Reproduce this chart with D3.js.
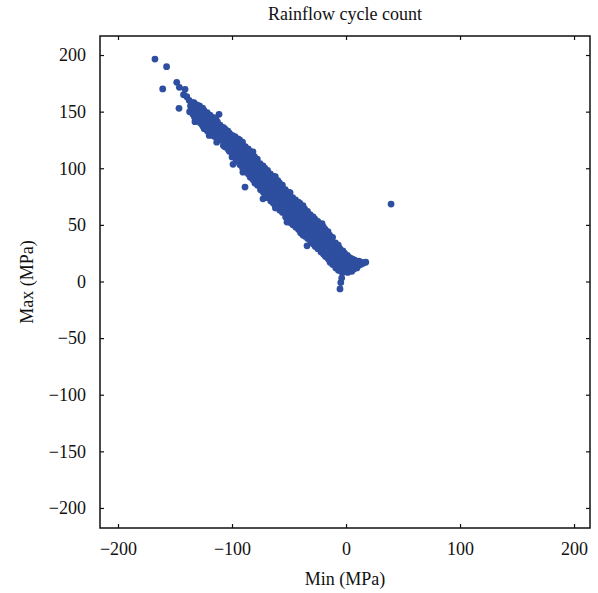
<!DOCTYPE html>
<html>
<head>
<meta charset="utf-8">
<script src="https://cdn.jsdelivr.net/npm/d3@7"></script>
<style>
  body { margin: 0; background: #fff; }
  text { font-family: "Liberation Serif", "DejaVu Serif", serif; fill: #111; }
</style>
</head>
<body>
<div id="chart-area"></div>
<script>

// rainflow cycles: min stress (MPa) and max stress (MPa)
const minStress = [
  -167.6, -157.4, -160.8, -148.5, -146.2, -146.5, -141.2, -142.5, -139.7, -132.5,
  -111.4, -114.2, -88.6, 39.5, -5.3, -4.6, -3.8,
  // ragged edges
  -125.4, -113.4, -99.1, -90.4, -72.8, -51.8, -34.2, -81.6, -49.1, -21.0, -120.0, -62.0,
  -137.6, -136.4, -137.2,
  -133.4, -132.6, -133.8, -132.9,
  -128.5, -127.6, -128.3, -127.8,
  -124.6, -123.5, -124.2, -123.7, -124.4,
  -119.3, -118.6, -119.5, -118.8, -119.2,
  -115.4, -114.6, -115.2, -114.8, -115.3,
  -110.5, -109.6, -110.3, -109.8,
  -106.4, -105.7, -106.2, -105.8, -106.3,
  -102.3, -101.6, -102.1, -101.8, -102.4,
  -97.4, -96.7, -97.2, -96.8, -97.3, -96.6,
  -93.3, -92.6, -93.1, -92.8, -93.4, -92.7, -93.0,
  -88.4, -87.6, -88.2, -87.8, -88.3, -87.7, -88.1,
  -84.3, -83.6, -84.1, -83.8, -84.4, -83.7, -84.0,
  -80.2, -79.6, -80.1, -79.8, -80.3, -79.7, -80.0,
  -75.4, -74.6, -75.2, -74.8, -75.3, -74.7, -75.0,
  -71.3, -70.6, -71.1, -70.8, -71.4, -70.7, -71.0,
  -66.4, -65.6, -66.2, -65.8, -66.3, -65.7, -66.0,
  -62.3, -61.6, -62.1, -61.8, -62.4, -61.7, -62.0, -61.9,
  -58.4, -57.6, -58.2, -57.8, -58.3, -57.7, -58.0,
  -53.3, -52.6, -53.1, -52.8, -53.4, -52.7, -53.0,
  -49.4, -48.6, -49.2, -48.8, -49.3, -48.7, -49.0,
  -44.3, -43.6, -44.1, -43.8, -44.4, -43.7, -44.0,
  -40.4, -39.6, -40.2, -39.8, -40.3, -39.7, -40.0, -39.9,
  -36.3, -35.6, -36.1, -35.8, -36.4, -35.7, -36.0,
  -31.4, -30.6, -31.2, -30.8, -31.3, -30.7, -31.0,
  -27.3, -26.6, -27.1, -26.8, -27.4, -26.7, -27.0,
  -22.4, -21.6, -22.2, -21.8, -22.3, -21.7, -22.0,
  -18.3, -17.6, -18.1, -17.8, -18.4, -17.7, -18.0,
  -14.4, -13.6, -14.2, -13.8, -14.3, -13.7, -14.0,
  -9.3, -8.6, -9.1, -8.8, -9.4, -8.7, -9.0,
  -5.4, -4.6, -5.2, -4.8, -5.3, -4.7,
  -1.3, -0.6, -1.1, -0.8, -1.2,
  3.3, 2.6, 3.1, 2.8,
  7.2, 6.6, 7.0,
  11.2, 10.7,
  15.0, 17.3,
  // in-between cycles
  -134.8, -135.3, -134.5,
  -130.8, -131.2, -130.4, -130.9,
  -125.8, -126.2, -125.5, -125.9,
  -121.8, -122.1, -121.4, -121.9, -121.6,
  -116.8, -117.2, -116.5, -116.9, -116.6,
  -112.8, -113.1, -112.5, -112.9, -112.6,
  -107.8, -108.2, -107.5, -107.9, -107.6,
  -103.8, -104.1, -103.5, -103.9, -103.6,
  -99.8, -100.2, -99.5, -99.9, -99.6, -100.0,
  -94.8, -95.2, -94.5, -94.9, -94.6, -95.0,
  -90.8, -91.2, -90.5, -90.9, -90.6, -91.0, -90.7,
  -85.8, -86.2, -85.5, -85.9, -85.6, -86.0, -85.7,
  -81.8, -82.2, -81.5, -81.9, -81.6, -82.0, -81.7,
  -77.8, -78.2, -77.5, -77.9, -77.6, -78.0, -77.7,
  -72.8, -73.2, -72.5, -72.9, -72.6, -73.0, -72.7,
  -68.8, -69.2, -68.5, -68.9, -68.6, -69.0, -68.7,
  -63.8, -64.2, -63.5, -63.9, -63.6, -64.0, -63.7,
  -59.8, -60.2, -59.5, -59.9, -59.6, -60.0, -59.7,
  -55.8, -56.2, -55.5, -55.9, -55.6, -56.0, -55.7,
  -50.8, -51.2, -50.5, -50.9, -50.6, -51.0, -50.7,
  -46.8, -47.2, -46.5, -46.9, -46.6, -47.0, -46.7,
  -41.8, -42.2, -41.5, -41.9, -41.6, -42.0, -41.7,
  -37.8, -38.2, -37.5, -37.9, -37.6, -38.0, -37.7, -37.9,
  -33.8, -34.2, -33.5, -33.9, -33.6, -34.0, -33.7,
  -28.8, -29.2, -28.5, -28.9, -28.6, -29.0, -28.7,
  -24.8, -25.2, -24.5, -24.9, -24.6, -25.0, -24.7,
  -19.8, -20.2, -19.5, -19.9, -19.6, -20.0, -19.7,
  -15.8, -16.2, -15.5, -15.9, -15.6, -16.0, -15.7,
  -11.8, -12.2, -11.5, -11.9, -11.6, -12.0, -11.7,
  -6.8, -7.2, -6.5, -6.9, -6.6, -7.0, -6.7,
  -2.8, -3.2, -2.5, -2.9, -2.6, -3.0,
  1.2, 0.8, 1.5, 1.1, 1.4,
  5.2, 4.8, 5.5, 5.1,
  9.2, 8.8, 9.5,
  13.2, 12.8
];

const maxStress = [
  196.4, 189.7, 170.1, 175.9, 171.5, 152.9, 169.7, 165.0, 163.2, 141.1,
  147.6, 144.3, 83.4, 68.4, -6.6, -1.0, 3.0,
  // ragged edges
  137.0, 123.0, 103.5, 96.5, 73.0, 52.5, 31.5, 114.5, 78.5, 51.0, 129.0, 92.5,
  160, 155, 150,
  158, 153, 148, 145,
  155, 150, 145, 140,
  151, 147, 143, 139, 135,
  147, 143, 139, 135, 131,
  143, 139, 135, 131, 128,
  138, 134, 130, 126,
  135, 131, 127, 123, 119,
  131, 127, 123, 119, 115,
  128, 124, 120, 116, 112, 108,
  125, 121, 117, 113, 109, 105, 103,
  119, 115, 111, 107, 103, 99, 97,
  115, 111, 107, 103, 99, 95, 92,
  110, 106, 102, 98, 94, 90, 87,
  104, 100, 96, 92, 88, 84, 81,
  100, 96, 92, 88, 84, 80, 76,
  95, 91, 87, 83, 79, 75, 71,
  91, 87, 83, 79, 75, 71, 67, 65,
  87, 83, 79, 75, 71, 67, 63,
  81, 77, 73, 69, 65, 61, 57,
  76, 72, 68, 64, 60, 56, 52,
  72, 68, 64, 60, 56, 52, 48,
  69, 65, 61, 57, 53, 49, 45, 43,
  64, 60, 56, 52, 48, 44, 40,
  59, 55, 51, 47, 43, 39, 35,
  55, 51, 47, 43, 39, 35, 31,
  50, 46, 42, 38, 34, 30, 26,
  46, 42, 38, 34, 30, 26, 22,
  41, 37, 33, 29, 25, 21, 17,
  34, 30, 26, 22, 18, 14, 12,
  29, 25, 21, 17, 13, 9,
  25, 21, 17, 13, 9,
  21, 17, 13, 9,
  19, 15, 11,
  18, 14,
  16, 17,
  // in-between cycles
  158, 153, 148,
  156, 151, 146, 143,
  153, 148, 143, 138,
  149, 145, 141, 137, 133,
  145, 141, 137, 133, 129,
  141, 137, 133, 129, 126,
  136, 132, 128, 124, 120,
  133, 129, 125, 121, 117,
  129, 125, 121, 117, 113, 110,
  126, 122, 118, 114, 110, 106,
  123, 119, 115, 111, 107, 103, 100,
  117, 113, 109, 105, 101, 97, 95,
  113, 109, 105, 101, 97, 93, 90,
  108, 104, 100, 96, 92, 88, 85,
  102, 98, 94, 90, 86, 82, 79,
  98, 94, 90, 86, 82, 78, 74,
  93, 89, 85, 81, 77, 73, 69,
  89, 85, 81, 77, 73, 69, 65,
  85, 81, 77, 73, 69, 65, 61,
  79, 75, 71, 67, 63, 59, 55,
  74, 70, 66, 62, 58, 54, 50,
  70, 66, 62, 58, 54, 50, 46,
  67, 63, 59, 55, 51, 47, 43, 41,
  62, 58, 54, 50, 46, 42, 38,
  57, 53, 49, 45, 41, 37, 33,
  53, 49, 45, 41, 37, 33, 29,
  48, 44, 40, 36, 32, 28, 24,
  44, 40, 36, 32, 28, 24, 20,
  39, 35, 31, 27, 23, 19, 15,
  32, 28, 24, 20, 16, 12, 10,
  27, 23, 19, 15, 11, 8,
  23, 19, 15, 11, 8,
  20, 16, 12, 9,
  18, 14, 12,
  17, 15
];

const xTicks = [-200, -100, 0, 100, 200];
const yTicks = [-200, -150, -100, -50, 0, 50, 100, 150, 200];

const cycles = minStress.map((d, i) => ({ min: d, max: maxStress[i] }));

const width = 598;
const height = 593;
const plot = { left: 100, right: 590, top: 36, bottom: 528 };

const scaleX = d3.scaleLinear()
  .domain([-215.8, 214])
  .range([plot.left, plot.right]);

const scaleY = d3.scaleLinear()
  .domain([-217.7, 216.8])
  .range([plot.bottom, plot.top]);

const svg = d3.select('#chart-area').append('svg')
  .attr('width', width)
  .attr('height', height);

// points first, frame on top
svg.append('g')
  .selectAll('circle')
  .data(cycles)
  .enter()
  .append('circle')
    .attr('cx', d => scaleX(d.min))
    .attr('cy', d => scaleY(d.max))
    .attr('r', 3.4)
    .attr('fill', '#2e4e9f');

const tickLen = 4;

const axisB = d3.axisBottom(scaleX).tickValues(xTicks).tickSizeInner(-tickLen).tickSizeOuter(0).tickPadding(14);
const axisT = d3.axisTop(scaleX).tickValues(xTicks).tickSizeInner(-tickLen).tickSizeOuter(0).tickFormat('');
const axisL = d3.axisLeft(scaleY).tickValues(yTicks).tickSizeInner(-tickLen).tickSizeOuter(0).tickPadding(14);
const axisR = d3.axisRight(scaleY).tickValues(yTicks).tickSizeInner(-tickLen).tickSizeOuter(0).tickFormat('');

function styleAxis(g) {
  g.select('.domain').remove();
  g.selectAll('line').attr('stroke', '#111').attr('stroke-width', 1.2);
  g.selectAll('text').attr('font-size', '18px').attr('font-family', '"Liberation Serif", serif').attr('fill', '#111');
}

svg.append('g')
  .attr('class', 'x axis')
  .attr('transform', `translate(0, ${plot.bottom})`)
  .call(axisB)
  .call(styleAxis);

svg.append('g')
  .attr('transform', `translate(0, ${plot.top})`)
  .call(axisT)
  .call(styleAxis);

svg.append('g')
  .attr('class', 'y axis')
  .attr('transform', `translate(${plot.left}, 0)`)
  .call(axisL)
  .call(styleAxis);

svg.append('g')
  .attr('transform', `translate(${plot.right}, 0)`)
  .call(axisR)
  .call(styleAxis);

svg.append('rect')
  .attr('x', plot.left)
  .attr('y', plot.top)
  .attr('width', plot.right - plot.left)
  .attr('height', plot.bottom - plot.top)
  .attr('fill', 'none')
  .attr('stroke', '#111')
  .attr('stroke-width', 1.5);

svg.append('text')
  .text('Rainflow cycle count')
    .attr('x', (plot.left + plot.right) / 2)
    .attr('y', 20)
    .attr('font-size', '18px')
    .attr('text-anchor', 'middle');

svg.append('text')
  .text('Min (MPa)')
    .attr('x', (plot.left + plot.right) / 2)
    .attr('y', 585)
    .attr('font-size', '18px')
    .attr('text-anchor', 'middle');

svg.append('text')
  .text('Max (MPa)')
    .attr('x', -((plot.top + plot.bottom) / 2))
    .attr('y', 33)
    .attr('transform', 'rotate(-90)')
    .attr('font-size', '18px')
    .attr('text-anchor', 'middle');

</script>
</body>
</html>
